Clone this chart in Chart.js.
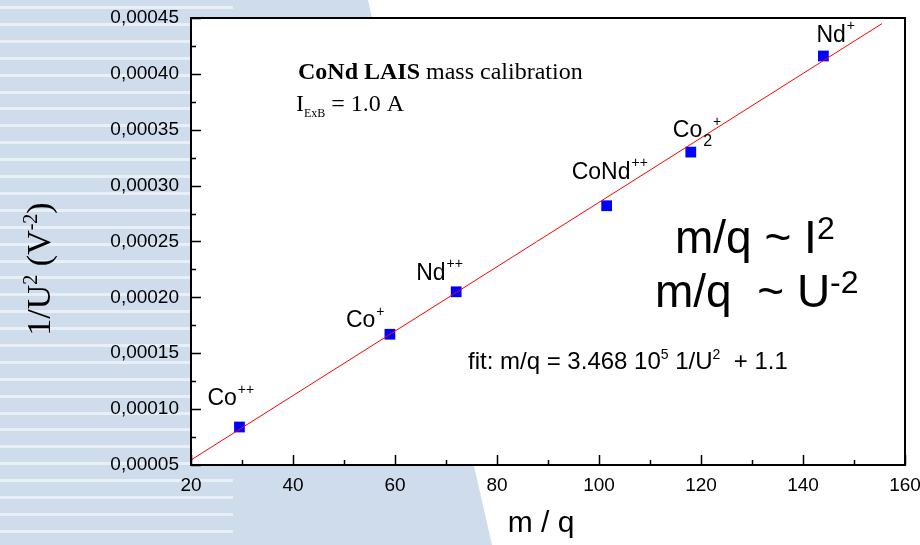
<!DOCTYPE html>
<html>
<head>
<meta charset="utf-8">
<script src="https://cdn.jsdelivr.net/npm/chart.js@4/dist/chart.umd.min.js"></script>
<style>
  html, body { margin: 0; padding: 0; background: #fff; }
  #chart { display: block; }
</style>
</head>
<body>
<canvas id="chart" width="920" height="545"></canvas>
<script>
// measured points (m/q vs 1/U^2)
const massCharge = [29.5, 59, 72, 101.5, 118, 144];
const invVoltageSq = [0.000084, 0.000167, 0.000205, 0.000282, 0.000330, 0.000416];
const ionNames = ['Co', 'Co', 'Nd', 'CoNd', 'Co', 'Nd'];
const ionSubs = ['', '', '', '', '2', ''];
const ionCharges = ['++', '+', '++', '++', '+', '+'];

// linear fit line, end points
const fitX = [20, 155.5];
const fitY = [0.0000545, 0.000445];

// axes
const xRange = [20, 160];
const yRange = [0.00005, 0.00045];
const xStep = 20;
const yStep = 0.00005;

const SANS = '"Liberation Sans", Arial, sans-serif';
const SERIF = '"Liberation Serif", "Times New Roman", serif';

// label placement relative to each marker (pixels)
const labelOffsets = [[-32, -22], [-44, -7], [-40, -12], [-35, -27], [-18, -15], [-7, -14]];

function drawRich(ctx, x, y, parts) {
    let cx = x;
    for (const p of parts) {
        ctx.font = p.font;
        cx += p.dx || 0;
        ctx.fillText(p.text, cx, y + (p.dy || 0));
        cx += ctx.measureText(p.text).width;
    }
    return cx - x;
}

function richWidth(ctx, parts) {
    let w = 0;
    for (const p of parts) {
        ctx.font = p.font;
        w += (p.dx || 0) + ctx.measureText(p.text).width;
    }
    return w;
}

const backdrop = {
    id: 'backdrop',
    beforeDraw(chart) {
        const { ctx, chartArea: a } = chart;
        ctx.save();
        ctx.fillStyle = '#ffffff';
        ctx.fillRect(0, 0, chart.width, chart.height);
        // slide background on the left
        ctx.fillStyle = '#cfdcec';
        ctx.beginPath();
        ctx.moveTo(0, 0);
        ctx.lineTo(368, 0);
        ctx.lineTo(492, chart.height);
        ctx.lineTo(0, chart.height);
        ctx.closePath();
        ctx.fill();
        ctx.fillStyle = '#e9eff7';
        for (let y = 6; y < chart.height; y += 16.9) {
            ctx.fillRect(0, Math.round(y), 233, 3);
        }
        ctx.fillStyle = '#ffffff';
        ctx.fillRect(a.left, a.top, a.right - a.left, a.bottom - a.top);
        ctx.restore();
    }
};

const frame = {
    id: 'frame',
    afterDatasetsDraw(chart) {
        const { ctx, chartArea: a, scales: { x, y } } = chart;
        ctx.save();
        ctx.strokeStyle = '#000';
        ctx.lineWidth = 1.5;
        // inward ticks, minor ones halfway between the labelled ones
        ctx.beginPath();
        for (let v = xRange[0]; v <= xRange[1]; v += xStep / 2) {
            const px = Math.round(x.getPixelForValue(v)) + 0.5;
            const len = (v - xRange[0]) % xStep === 0 ? 10 : 5;
            ctx.moveTo(px, a.bottom);
            ctx.lineTo(px, a.bottom - len);
        }
        for (let i = 0; i <= Math.round((yRange[1] - yRange[0]) / (yStep / 2)); i++) {
            const v = yRange[0] + i * yStep / 2;
            const py = Math.round(y.getPixelForValue(v)) + 0.5;
            const len = i % 2 === 0 ? 10 : 5;
            ctx.moveTo(a.left, py);
            ctx.lineTo(a.left + len, py);
        }
        ctx.stroke();
        ctx.lineWidth = 2;
        ctx.strokeRect(a.left, a.top, a.right - a.left, a.bottom - a.top);
        ctx.restore();
    }
};

const annotations = {
    id: 'annotations',
    afterDraw(chart) {
        const { ctx, scales: { x, y } } = chart;
        ctx.save();
        ctx.fillStyle = '#000';
        ctx.textAlign = 'left';
        ctx.textBaseline = 'alphabetic';

        // ion labels
        const main = '23px ' + SANS;
        const small = '14px ' + SANS;
        massCharge.forEach((m, i) => {
            const px = x.getPixelForValue(m) + labelOffsets[i][0];
            const py = y.getPixelForValue(invVoltageSq[i]) + labelOffsets[i][1];
            const parts = [{ text: ionNames[i], font: main }];
            if (ionSubs[i]) parts.push({ text: ionSubs[i], font: '16px ' + SANS, dx: 1, dy: 9 });
            parts.push({ text: ionCharges[i], font: small, dx: 1, dy: -11.5 });
            drawRich(ctx, px, py, parts);
        });

        // title block
        drawRich(ctx, 298, 79, [
            { text: 'CoNd LAIS', font: 'bold 24px ' + SERIF },
            { text: ' mass calibration', font: '24px ' + SERIF }
        ]);
        drawRich(ctx, 296, 111, [
            { text: 'I', font: '24px ' + SERIF },
            { text: 'ExB', font: '12px ' + SERIF, dy: 6 },
            { text: ' = 1.0 A', font: '24px ' + SERIF }
        ]);

        // fit equation
        drawRich(ctx, 468, 369, [
            { text: 'fit: m/q = 3.468 10', font: '24px ' + SANS },
            { text: '5', font: '14px ' + SANS, dy: -10 },
            { text: ' 1/U', font: '24px ' + SANS },
            { text: '2', font: '14px ' + SANS, dy: -10 },
            { text: '  + 1.1', font: '24px ' + SANS }
        ]);

        // scaling relations
        drawRich(ctx, 675, 253, [
            { text: 'm/q ~ I', font: '46px ' + SANS },
            { text: '2', font: '32px ' + SANS, dy: -14 }
        ]);
        drawRich(ctx, 655, 307, [
            { text: 'm/q  ~ U', font: '46px ' + SANS },
            { text: '-2', font: '32px ' + SANS, dy: -14 }
        ]);

        // axis titles
        ctx.font = '30px ' + SANS;
        ctx.textAlign = 'center';
        ctx.fillText('m / q', 541, 532);
        ctx.textAlign = 'left';

        const yTitle = [
            { text: '1/U', font: '34px ' + SERIF },
            { text: '2', font: '20px ' + SERIF, dy: -13 },
            { text: ' (V', font: '34px ' + SERIF },
            { text: '-2', font: '20px ' + SERIF, dy: -13 },
            { text: ')', font: '34px ' + SERIF }
        ];
        const w = richWidth(ctx, yTitle);
        ctx.translate(50, 269);
        ctx.rotate(-Math.PI / 2);
        drawRich(ctx, -w / 2, 0, yTitle);
        ctx.restore();
    }
};

new Chart(document.getElementById('chart'), {
    type: 'scatter',
    data: {
        datasets: [
            {
                label: 'fit',
                data: fitX.map((v, i) => ({ x: v, y: fitY[i] })),
                showLine: true,
                borderColor: '#ff0000',
                borderWidth: 1,
                pointRadius: 0,
                fill: false
            },
            {
                label: 'ions',
                data: massCharge.map((v, i) => ({ x: v, y: invVoltageSq[i] })),
                pointStyle: 'rect',
                pointRadius: 7.6,
                backgroundColor: '#0000ff',
                borderColor: '#0000ff',
                borderWidth: 0
            }
        ]
    },
    options: {
        responsive: false,
        devicePixelRatio: 1,
        animation: false,
        events: [],
        layout: { padding: { top: 18, right: 15, left: 0, bottom: 0 } },
        plugins: { legend: { display: false }, tooltip: { enabled: false } },
        scales: {
            x: {
                type: 'linear',
                min: xRange[0],
                max: xRange[1],
                grid: { display: false, drawTicks: false },
                border: { display: false },
                ticks: {
                    stepSize: xStep,
                    padding: 9,
                    color: '#000',
                    maxRotation: 0,
                    font: { family: SANS, size: 19 }
                },
                afterFit(s) {
                    s.height = 80;
                    s.paddingLeft = 0;
                    s.paddingRight = 0;
                }
            },
            y: {
                type: 'linear',
                min: yRange[0],
                max: yRange[1],
                grid: { display: false, drawTicks: false },
                border: { display: false },
                ticks: {
                    stepSize: yStep,
                    padding: 12,
                    color: '#000',
                    font: { family: SANS, size: 19 },
                    callback: (v) => v.toFixed(5).replace('.', ',')
                },
                afterFit(s) {
                    s.width = 191;
                    s.paddingTop = 0;
                    s.paddingBottom = 0;
                }
            }
        }
    },
    plugins: [backdrop, frame, annotations]
});
</script>
</body>
</html>
